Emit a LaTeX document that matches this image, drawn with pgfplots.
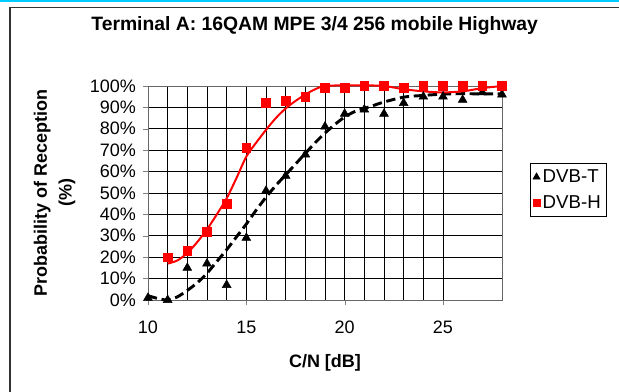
\documentclass[border=0pt]{standalone}
\usepackage{fontspec}
\setmainfont{Liberation Sans}
\usepackage{pgfplots}
\pgfplotsset{compat=1.18}
\definecolor{topcyan}{RGB}{0,204,255}
\definecolor{dvbh}{RGB}{255,0,0}

\begin{document}
\begin{tikzpicture}
% page: 619x392 px at 0.75pt/px, axis origin at px (148,300)
\useasboundingbox (-111pt,-69pt) rectangle (353.25pt,225pt);
\fill[topcyan] (-111pt,223.6pt) rectangle (353.25pt,225pt);
\draw[black!80, line width=1.1pt] (-103.5pt,-70pt) -- (-103.5pt,219.5pt) -- (354pt,219.5pt);
\node[font=\bfseries\fontsize{14.5}{16}\selectfont] at (125pt,205.5pt) {Terminal A: 16QAM MPE 3/4 256 mobile Highway};

\begin{axis}[
    at={(0pt,0pt)}, anchor=origin,
    scale only axis,
    width=265.5pt, height=160.5pt,
    xmin=10, xmax=28, ymin=0, ymax=100,
    xtick={10,15,20,25},
    minor x tick num=4,
    ytick={0,10,...,100},
    yticklabel={\pgfmathprintnumber{\tick}\%},
    /pgf/number format/assume math mode=true,
    tick label style={font=\fontsize{13.5}{15}\selectfont},
    xticklabel style={yshift=-8.5pt},
    yticklabel style={xshift=-1.5pt},
    tick align=outside,
    major tick length=4pt,
    minor tick length=0pt,
    xtick pos=bottom, ytick pos=left,
    grid=both,
    major grid style={black, line width=0.6pt},
    minor grid style={black, line width=0.6pt},
    axis line style={black!60, line width=0.7pt},
    xlabel={C/N [dB]},
    xlabel style={font=\bfseries\fontsize{13.5}{15}\selectfont, at={(axis description cs:0.5,0)}, anchor=center, yshift=-47pt},
    legend style={at={(axis description cs:1,0.642)}, anchor=north west, xshift=21pt,
        font=\fontsize{14}{16}\selectfont, draw=black, line width=0.6pt,
        row sep=4pt, inner xsep=2pt, inner ysep=3pt},
    legend cell align=left,
    clip=false,
]
% trend lines
\addplot[forget plot, black, line width=2.2pt, dash pattern=on 7pt off 3.5pt, smooth] coordinates {
    (10,2) (10.5,0.7) (11,0) (11.5,1.5) (12,4.5) (12.5,8) (13,12.5) (13.5,18)
    (14,23.5) (14.5,29.5) (15,35.5) (15.5,42) (16,48) (16.5,53.5) (17,58.5)
    (17.5,63.5) (18,68.5) (18.5,73.5) (19,78) (19.5,82) (20,85.5) (20.5,88)
    (21,89.5) (21.5,91) (22,92.5) (23,94.8) (24,95.6) (25,96.2) (26,96.4)
    (27,96.3) (28,96.3)
};
\addplot[forget plot, dvbh, line width=1.5pt, smooth] coordinates {
    (11,17) (11.5,18.5) (12,22) (12.5,27) (13,33) (13.5,40) (14,47.5)
    (14.5,57) (15,67) (15.5,73.5) (16,79.5) (16.5,85) (17,89.5) (17.5,93)
    (18,96) (18.5,98.5) (19,100) (20,100.3) (21,100.3) (22,100)
    (23,98.5) (24,97.5) (25,97) (26,97.5) (27,99) (28,100)
};
% measured points
\addplot[only marks, mark=triangle*, mark size=3.8pt, black,
    legend image code/.code={\draw[mark size=3pt] plot[mark=triangle*] coordinates {(0.2cm,0cm)};}] coordinates {
    (10,1) (11,0) (12,15) (13,17) (14,7) (15,29) (16,51) (17,58) (18,68)
    (19,81) (20,87) (21,89) (22,87) (23,92) (24,95) (25,95) (26,93.5)
    (27,97) (28,96)
};
\addlegendentry{DVB-T}
\addplot[only marks, mark=square*, mark size=3.3pt, dvbh,
    legend image code/.code={\draw[mark size=2.6pt] plot[mark=square*] coordinates {(0.2cm,0cm)};}] coordinates {
    (11,20) (12,23) (13,32) (14,45) (15,71) (16,92) (17,93) (18,95)
    (19,99) (20,99) (21,100) (22,100) (23,99) (24,100) (25,100) (26,100)
    (27,100) (28,100)
};
\addlegendentry{DVB-H}
\end{axis}
\node[font=\bfseries\fontsize{13.5}{18.5}\selectfont, rotate=90, align=center]
    at (-70pt,80.25pt) {Probability of Reception\\(\%)};
\end{tikzpicture}
\end{document}
